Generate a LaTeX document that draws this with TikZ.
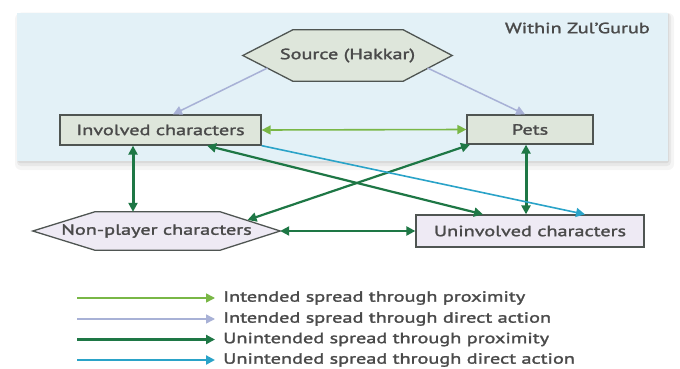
\documentclass[tikz,border=0pt]{standalone}
\usepackage{fontspec}
\setmainfont[FakeStretch=1.37,FakeBold=1.8]{PT Sans}
\usetikzlibrary{arrows.meta}
\definecolor{panelc}{HTML}{E3F1F7}
\definecolor{topfill}{HTML}{DEE6DB}
\definecolor{lowfill}{HTML}{EEEAF4}
\definecolor{edgec}{HTML}{4F5552}
\definecolor{txtc}{HTML}{4A4A4A}
\definecolor{lgreen}{HTML}{79B746}
\definecolor{gblue}{HTML}{A8B1D6}
\definecolor{dgreen}{HTML}{1E7745}
\definecolor{cblue}{HTML}{2AA3C8}
\tikzset{
  lbl/.style={text=txtc, inner sep=2pt},
  topbox/.style={draw=edgec, line width=1.3pt, fill=topfill, text=txtc, inner sep=0pt},
  lowbox/.style={draw=edgec, line width=1.3pt, fill=lowfill, text=txtc, inner sep=0pt},
  hexnode/.style={text=txtc, inner sep=0pt},
  hexline/.style={draw=edgec, line width=1.3pt},
  tipx/.style={-{Triangle[length=9pt,width=9pt]}},
  tipxx/.style={{Triangle[length=9pt,width=9pt]}-{Triangle[length=9pt,width=9pt]}},
  ipx/.style={lgreen, line width=1.6pt},
  idx/.style={gblue, line width=1.5pt},
  upx/.style={dgreen, line width=2.2pt},
  upxthick/.style={dgreen, line width=3pt},
  udx/.style={cblue, line width=1.6pt},
}
\begin{document}
\begin{tikzpicture}[x=1pt,y=-1pt,font=\fontsize{14.8}{17}\selectfont]
\useasboundingbox (0,0) rectangle (680,369);
\fill[white] (0,0) rectangle (680,369);
% panel with soft shadow
\fill[black, opacity=0.04, rounded corners=6] (15,13) rectangle (674,170);
\fill[black, opacity=0.05, rounded corners=4] (17,13) rectangle (671,166);
\fill[black, opacity=0.06, rounded corners=2] (18,13) rectangle (669,163);
\fill[panelc] (17,13) rectangle (668,161);
\node[lbl, anchor=east] (zg) at (652,28) {Within Zul’Gurub};

% nodes
\node[hexnode, minimum width=209pt, minimum height=51pt] (src) at (347.5,55.5) {};
\filldraw[hexline, fill=topfill] (src.west) -- ([xshift=50]src.north west) -- ([xshift=-49]src.north east)
  -- (src.east) -- ([xshift=-49]src.south east) -- ([xshift=50]src.south west) -- cycle;
\node[hexnode] at (src.center) {Source (Hakkar)};
\node[topbox, minimum width=201pt, minimum height=30pt] (inv) at (160.5,130) {Involved characters};
\node[topbox, minimum width=126pt, minimum height=29pt] (pets) at (530,129.5) {Pets};
\node[hexnode, minimum width=247pt, minimum height=38pt] (npc) at (156.5,231) {};
\filldraw[hexline, fill=lowfill] (npc.west) -- ([xshift=62]npc.north west) -- ([xshift=-60]npc.north east)
  -- (npc.east) -- ([xshift=-60]npc.south east) -- ([xshift=62]npc.south west) -- cycle;
\node[hexnode] at (npc.center) {Non-player characters};
\node[lowbox, minimum width=228pt, minimum height=32pt] (uninv) at (530,231) {Uninvolved characters};

% connectors
\draw[idx, tipx] ([shift={(-80,12.5)}]src.center) -- ([xshift=12.5]inv.north);
\draw[idx, tipx] ([shift={(80,12.5)}]src.center) -- ([xshift=-5]pets.north);
\draw[ipx, tipxx] (inv.east) -- (pets.west);
\draw[upxthick, tipxx] ([xshift=-27.5]inv.south) -- ([xshift=-27.5]inv.south |- npc.north);
\draw[upx, tipxx] ([xshift=46.5]inv.south) -- ([xshift=-47]uninv.north);
\draw[upx, tipxx] ([xshift=-60]pets.south) -- ([shift={(91,-11)}]npc.center);
\draw[upxthick, tipxx] ([xshift=-4]pets.south) -- ([xshift=-4]pets.south |- uninv.north);
\draw[udx, tipx] (inv.south east) -- ([xshift=55]uninv.north);
\draw[upx, tipxx] (npc.east) -- (uninv.west);

% legend
\node[lbl, anchor=west] (lt1) at (221,298) {Intended spread through proximity};
\node[lbl, anchor=west] (lt2) at (221,319) {Intended spread through direct action};
\node[lbl, anchor=west] (lt3) at (221,339.5) {Unintended spread through proximity};
\node[lbl, anchor=west] (lt4) at (221,360) {Unintended spread through direct action};
\coordinate (l1) at (77,298);
\coordinate (l2) at (77,319);
\coordinate (l3) at (77,339.5);
\coordinate (l4) at (77,360);
\draw[ipx, tipx] (l1) -- ([xshift=-6]lt1.west);
\draw[idx, tipx] (l2) -- ([xshift=-6]lt2.west);
\draw[upx, tipx] (l3) -- ([xshift=-6]lt3.west);
\draw[udx, line width=2.2pt, tipx] (l4) -- ([xshift=-6]lt4.west);
\end{tikzpicture}
\end{document}
